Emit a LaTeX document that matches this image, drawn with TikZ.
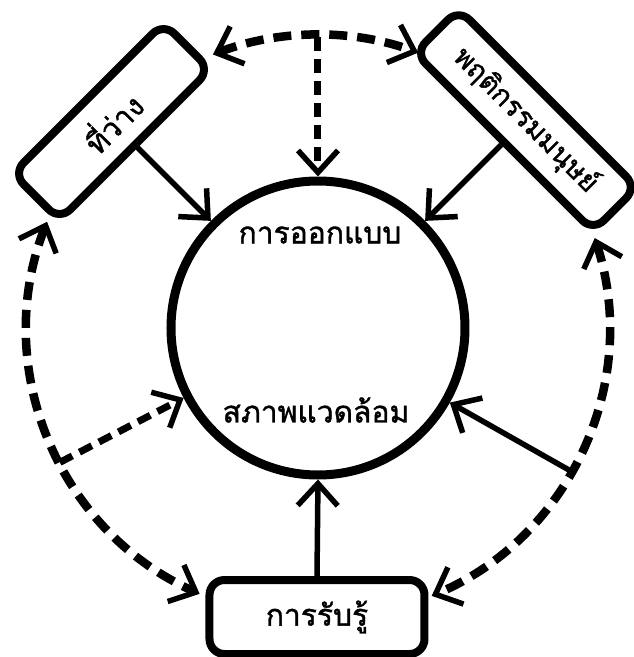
\documentclass[tikz,border=0pt]{standalone}
\usepackage{fontspec}
\usetikzlibrary{arrows.meta,calc,positioning}
\newfontfamily\thaifont[Script=Thai,FakeBold=1.3]{Loma}
\tikzset{every node/.style={font=\thaifont\fontsize{30}{36}\selectfont}}
\tikzset{
  box/.style={draw,line width=8pt,rounded corners=15pt,inner sep=0pt},
  link/.style={line width=5.5pt,->},
  ring/.style={line width=8.5pt,dash pattern=on 18pt off 10pt},
  spoke/.style={line width=7pt,dash pattern=on 14pt off 8pt,->}
}

\begin{document}
\begin{tikzpicture}[x=1pt,y=1pt,>={Straight Barb[length=22pt,width=40pt,line width=5.5pt]}]
  \useasboundingbox (-318,-329) rectangle (315,328);
  % --- centre circle ---
  \node[draw,circle,line width=9pt,minimum size=294pt,inner sep=0pt] (env) at (0,0) {};
  \node (design) at (2,93) {การออกแบบ};
  \node (surround) at (-2,-82) {สภาพแวดล้อม};
  % --- three boxes sitting on the outer ring ---
  \node[box,rotate=45,minimum width=213pt,minimum height=66pt] (space) at (135:292) {ที่ว่าง};
  \node[box,rotate=-45,minimum width=252pt,minimum height=62pt,
        font=\thaifont\fontsize{28}{34}\selectfont] (human) at (45:294) {พฤติกรรมมนุษย์};
  \node[box,minimum width=215pt,minimum height=74pt] (percept) at (-1,-289) {การรับรู้};
  % --- solid links into the circle ---
  \draw[link] (space.south) -- (env);
  \draw[link] (human.south) -- (env);
  \draw[link] (percept.north) -- (env.south);
  % --- dashed outer ring ---
  \coordinate (topmid) at (90:291);
  \coordinate (leftfork) at (207.5:291);
  \coordinate (rightfork) at (-29.5:291);
  \draw[ring,<->] (111:293) arc[start angle=111,end angle=70,radius=293];
  \draw[ring,<->] (158.6:291) arc[start angle=158.6,end angle=246,radius=291];
  \draw[ring,<->] (18:291) arc[start angle=18,end angle=-67,radius=291];
  % --- spokes from the ring ---
  \draw[spoke] (topmid) -- (env.north);
  \draw[spoke] (leftfork) -- (env);
  \draw[link] (rightfork) -- (env);
\end{tikzpicture}
\end{document}
